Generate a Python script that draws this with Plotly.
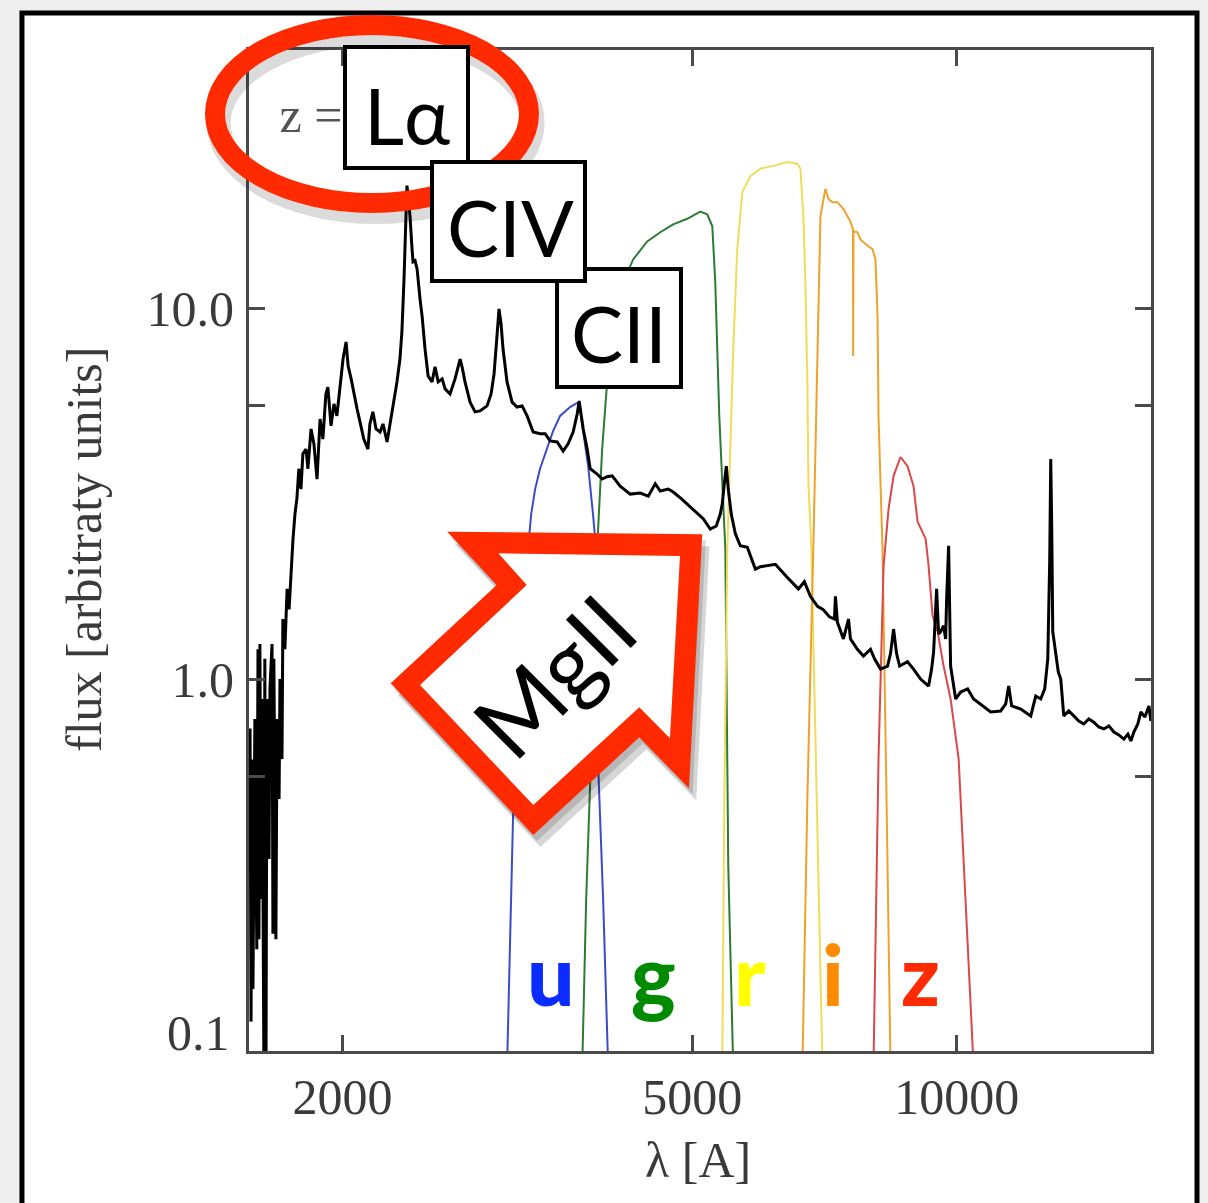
import plotly.graph_objects as go

# ---------------- data ----------------
spec_wave = [1570,1574,1578,1582,1590,1598,1603,1607,1611,1616,
             1620,1628,1632,1637,1641,1650,1654,1663,1667,1671,
             1680,1685,1694,1698,1707,1711,1720,1730,1739,1748,
             1757,1766,1775,1784,1794,1803,1818,1827,1842,1856,
             1871,1886,1900,1915,1925,1941,1956,1971,1987,2003,
             2019,2030,2046,2056,2078,2094,2115,2138,2149,2166,
             2184,2207,2224,2248,2265,2277,2295,2307,2325,2337,
             2350,2356,2362,2368,2374,2387,2400,2406,2419,2432,
             2451,2464,2483,2503,2529,2549,2570,2597,2617,2651,
             2686,2708,2722,2736,2757,2794,2831,2868,2921,2952,
             2975,2998,3014,3030,3046,3078,3119,3160,3202,3244,
             3296,3356,3401,3446,3510,3565,3612,3660,3699,3718,
             3738,3758,3797,3827,3897,3949,4001,4054,4140,4250,
             4363,4456,4538,4598,4695,4757,4858,5000,5146,5242,
             5325,5381,5409,5438,5467,5495,5538,5597,5671,5776,
             5899,5977,6088,6217,6399,6603,6707,6814,6942,7042,
             7162,7257,7276,7314,7430,7529,7568,7707,7830,7976,
             8060,8188,8340,8406,8473,8539,8607,8788,8928,9094,
             9287,9360,9410,9484,9534,9584,9660,9711,9736,9787,
             9838,9916,9970,10100,10287,10449,10700,10927,11217,11366,
             11455,11545,11822,12136,12296,12458,12589,12690,12755,12789,
             12823,12857,13045,13129,13233,13408,13585,13764,13946,14129,
             14316,14504,14698,14892,15089,15287,15490,15653,15776,15900,
             16066,16195,16367,16540,16626]
spec_flux = [0.74,0.12,0.61,0.147,0.785,0.188,1.21,0.20,1.25,0.257,
             0.889,0.09,1.14,0.09,0.889,0.329,0.946,1.25,0.207,1.14,
             0.20,0.785,0.478,1.006,0.612,1.46,1.21,1.76,1.55,1.99,
             2.40,2.80,3.08,3.71,3.27,4.07,4.19,3.71,4.75,4.33,
             3.48,5.05,4.46,5.90,6.16,4.84,5.55,5.15,6.09,7.33,
             8.15,7.02,6.48,6.09,5.38,4.96,4.46,4.19,4.90,5.28,
             4.75,4.66,4.90,4.38,4.90,5.15,5.90,6.36,7.33,8.67,
             12.05,14.5,18.6,21.5,20.4,17.8,14.5,13.4,13.5,12.8,
             10.6,9.57,7.80,6.60,6.36,6.98,6.36,6.48,6.09,5.90,
             6.48,6.98,7.33,6.98,6.36,5.61,5.28,5.31,5.48,5.90,
             6.68,8.46,10.0,9.11,7.80,6.36,5.61,5.44,5.48,5.15,
             4.66,4.61,4.61,4.41,4.38,4.14,4.33,4.66,5.21,5.65,
             5.21,4.75,4.19,3.71,3.59,3.48,3.53,3.55,3.33,3.17,
             3.19,3.13,3.38,3.23,3.27,3.21,3.08,2.89,2.72,2.55,
             2.60,2.80,2.98,3.38,3.77,3.27,2.80,2.48,2.30,2.28,
             1.99,2.02,2.03,2.05,1.90,1.76,1.84,1.68,1.58,1.55,
             1.48,1.46,1.68,1.43,1.29,1.46,1.29,1.21,1.16,1.21,
             1.14,1.07,1.09,1.18,1.37,1.18,1.09,1.12,1.07,1.006,
             0.963,1.07,1.19,1.76,1.33,1.35,1.40,1.29,1.65,2.30,
             1.09,0.946,0.889,0.928,0.946,0.889,0.851,0.820,0.825,0.862,
             0.963,0.851,0.835,0.800,0.905,0.889,0.946,1.14,2.12,3.94,
             2.55,1.35,1.05,1.006,0.800,0.825,0.800,0.775,0.761,0.785,
             0.770,0.747,0.738,0.752,0.724,0.711,0.693,0.715,0.685,0.724,
             0.761,0.820,0.795,0.851,0.775]

u_wave = [3078,3103,3127,3168,3210,3244,3279,3313,3356,3419,3473,3537,3631,3699,3718,3758,3807,3857,3887,3897,3908,3959,4012]
u_resp = [0.09,0.213,0.430,0.889,1.46,2.12,2.80,3.27,3.71,4.19,4.69,5.15,5.44,5.58,5.55,4.66,3.77,2.77,2.25,1.21,0.586,0.257,0.09]
g_wave = [3748,3787,3827,3867,3897,3949,4001,4065,4172,4283,4444,4598,4757,4935,5106,5201,5270,5311,5339,5367,5409,5453,5495,5567]
g_resp = [0.09,0.257,0.531,1.21,2.25,4.19,6.36,9.57,11.8,13.6,15.2,16.1,16.9,17.5,18.3,18.0,16.7,11.8,7.80,5.15,3.42,2.25,0.315,0.09]
r_wave = [5409,5438,5481,5524,5567,5626,5702,5822,5977,6187,6417,6586,6638,6690,6725,6760,6778,6832,6923,7033]
r_resp = [0.09,0.478,2.25,4.19,7.80,14.5,20.7,22.8,23.9,24.3,24.9,24.6,23.9,17.8,11.8,6.36,3.42,2.25,0.478,0.09]
i_wave = [6673,6760,6866,6942,6996,7088,7144,7219,7314,7430,7568,7618,7622,7628,7708,7769,7914,8018,8081,8124,8145,8231,8318,8406]
i_resp = [0.09,0.478,2.25,7.80,17.8,21.1,19.8,19.4,19.4,18.6,17.2,16.4,7.47,16.2,16.1,15.4,14.8,14.5,13.6,9.57,5.15,2.25,0.478,0.09]
z_wave = [8038,8145,8254,8362,8473,8629,8788,8928,9023,9215,9287,9384,9509,9660,9838,10048,10451]
z_resp = [0.09,0.612,2.03,2.89,3.55,3.99,3.77,3.33,2.67,2.40,2.03,1.49,1.35,1.09,0.889,0.612,0.09]

filter_names = ["u", "g", "r", "i", "z"]
filter_line_colors = ["#3b4cc8", "#2f7a35", "#f0dc5a", "#eea22c", "#d9484a"]
filter_label_colors = ["#0a2cff", "#008a00", "#ffff00", "#ff8c00", "#ff2a00"]

x_tickvals = [2000, 5000, 10000]
x_ticktext = ["2000", "5000", "10000"]
y_tickvals = [0.1, 0.55, 1.0, 5.5, 10.0]
y_ticktext = ["", "", "1.0", "", "10.0"]   # "0.1" is drawn a little above its tick, as in the original
y_bottom_label = "0.1"

redshift_label = "z ="
redshift_label_pos = (1842, 32.5)

# ---------------- figure ----------------
fig = go.Figure()
filters = [(u_wave, u_resp), (g_wave, g_resp), (r_wave, r_resp), (i_wave, i_resp), (z_wave, z_resp)]
for (w, r), name, col in zip(filters, filter_names, filter_line_colors):
    fig.add_trace(go.Scatter(x=w, y=r, mode="lines", name=name,
                             line=dict(color=col, width=2), showlegend=False))

fig.add_trace(go.Scatter(x=spec_wave, y=spec_flux, mode="lines", name="spectrum",
                         line=dict(color="black", width=3), showlegend=False))

fig.add_trace(go.Scatter(x=[redshift_label_pos[0]], y=[redshift_label_pos[1]], mode="text",
                         text=[redshift_label], textposition="middle center",
                         textfont=dict(family="Liberation Serif", size=50, color="#555555"),
                         showlegend=False))

tick_font = dict(family="Liberation Serif", size=50, color="#3a3a3a")
axis_common = dict(showline=True, linecolor="#4a4a4a", linewidth=3, mirror="allticks",
                   ticks="inside", ticklen=16, tickwidth=2.5, tickcolor="#4a4a4a",
                   showgrid=False, zeroline=False, tickfont=tick_font)

fig.update_xaxes(type="log", range=[3.1947, 4.2209], tickvals=x_tickvals, ticktext=x_ticktext,
                 **axis_common)
fig.update_yaxes(type="log", range=[-1.0, 1.698], tickvals=y_tickvals, ticktext=y_ticktext,
                 ticklabelstandoff=2, **axis_common)

RED = "#ff2a00"
shapes = []
# slide frame (white card with black border)
shapes.append(dict(type="rect", xref="paper", yref="paper", x0=-0.2517, x1=1.0510, y0=-0.2, y1=1.0370,
                   line=dict(color="black", width=5), fillcolor="white", layer="below"))
# ellipse shadow + ellipse
shapes.append(dict(type="circle", xref="paper", yref="paper", x0=-0.0377 + 0.004, x1=0.3104 + 0.004,
                   y0=0.8472 - 0.009, y1=1.0250 - 0.009,
                   line=dict(color="rgba(0,0,0,0.14)", width=24), layer="above"))
shapes.append(dict(type="circle", xref="paper", yref="paper", x0=-0.0377, x1=0.3104, y0=0.8472, y1=1.0250,
                   line=dict(color=RED, width=20), layer="above"))
# label boxes
for (x0, x1, y0, y1) in [(0.1064, 0.2428, 0.8821, 1.0030),
                         (0.3415, 0.4789, 0.6633, 0.7812),
                         (0.2029, 0.3725, 0.7692, 0.8881)]:
    shapes.append(dict(type="rect", xref="paper", yref="paper", x0=x0, x1=x1, y0=y0, y1=y1,
                       line=dict(color="black", width=4), fillcolor="white", layer="above"))

# big arrow (outer red, inner white)
outer = [(0.5025, 0.5162), (0.2198, 0.5188), (0.2746, 0.4655), (0.1571, 0.3673),
         (0.3152, 0.2158), (0.4327, 0.3134), (0.4878, 0.2624)]
inner = [(0.4778, 0.4945), (0.2764, 0.4972), (0.3079, 0.4655), (0.1896, 0.3656),
         (0.3152, 0.2458), (0.4327, 0.3434), (0.4667, 0.3124)]

def path(pts, dx=0.0, dy=0.0):
    return "M " + " L ".join(f"{x+dx:.4f},{y+dy:.4f}" for x, y in pts) + " Z"

shapes.append(dict(type="path", xref="paper", yref="paper", path=path(outer, 0.008, -0.012),
                   fillcolor="rgba(0,0,0,0.16)", line=dict(width=0), layer="above"))
shapes.append(dict(type="path", xref="paper", yref="paper", path=path(outer, 0.004, -0.006),
                   fillcolor="rgba(0,0,0,0.14)", line=dict(width=0), layer="above"))
shapes.append(dict(type="path", xref="paper", yref="paper", path=path(outer),
                   fillcolor=RED, line=dict(width=0), layer="above"))
shapes.append(dict(type="path", xref="paper", yref="paper", path=path(inner),
                   fillcolor="white", line=dict(width=0), layer="above"))

annotations = []
box_font = dict(family="Lato, Noto Sans, sans-serif", size=78, color="black")
for txt, x, y in [("Lα", 0.1752, 0.9351), ("CIV", 0.2894, 0.8232), ("CII", 0.4102, 0.7173)]:
    annotations.append(dict(text=txt, x=x, y=y, xref="paper", yref="paper", showarrow=False,
                            xanchor="center", yanchor="middle", font=box_font))
annotations.append(dict(text="MgII", x=0.3370, y=0.3756, xref="paper", yref="paper", showarrow=False,
                        xanchor="center", yanchor="middle", textangle=-45,
                        font=dict(family="Lato, Noto Sans, sans-serif", size=92, color="black")))

label_x = [0.3343, 0.4485, 0.5549, 0.6475, 0.7444]
for name, x, col in zip(filter_names, label_x, filter_label_colors):
    annotations.append(dict(text=name, x=x, y=0.0779, xref="paper", yref="paper", showarrow=False,
                            xanchor="center", yanchor="middle",
                            font=dict(family="Lato, sans-serif", size=84, color=col, weight=900)))

annotations.append(dict(text=y_bottom_label, x=-0.0188, y=0.0180, xref="paper", yref="paper",
                        showarrow=False, xanchor="right", yanchor="middle", font=tick_font))
annotations.append(dict(text="λ [A]", x=0.4978, y=-0.1089, xref="paper", yref="paper", showarrow=False,
                        xanchor="center", yanchor="middle",
                        font=dict(family="Liberation Serif", size=50, color="#3a3a3a")))
annotations.append(dict(text="flux [arbitraty units]", x=-0.1829, y=0.5005, xref="paper", yref="paper",
                        showarrow=False, xanchor="center", yanchor="middle", textangle=-90,
                        font=dict(family="Liberation Serif", size=50, color="#3a3a3a")))

fig.update_layout(width=1208, height=1203, margin=dict(l=249, r=57, t=50, b=152),
                  paper_bgcolor="#efefef", plot_bgcolor="rgba(0,0,0,0)",
                  shapes=shapes, annotations=annotations, showlegend=False)

fig.write_html("out.html")
